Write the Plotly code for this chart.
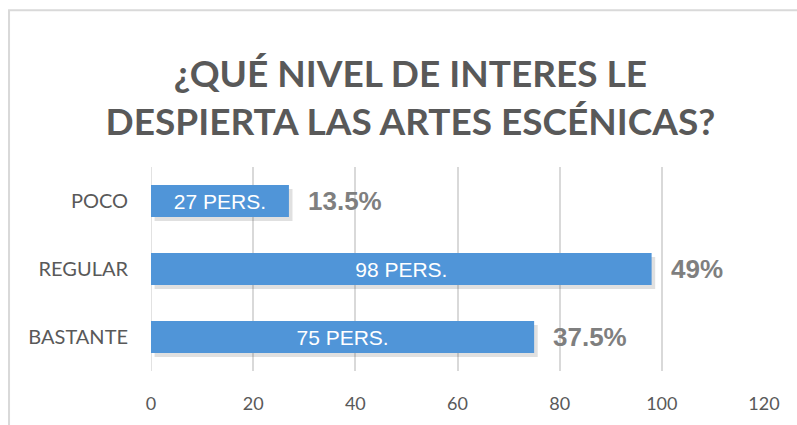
import plotly.graph_objects as go

# Survey answers, listed bottom-to-top as they appear on the category axis
categories = ["BASTANTE", "REGULAR", "POCO"]
people = [75, 98, 27]
percent_labels = ["37.5%", "49%", "13.5%"]
bar_text = [f"{v} PERS." for v in people]
x_ticks = [0, 20, 40, 60, 80, 100, 120]

BAR_WIDTH = 0.47
GRID = "#D9D9D9"
TEXT_GRAY = "#595959"

fig = go.Figure()

# soft drop shadow behind each bar
fig.add_trace(go.Bar(
    y=categories, x=people, orientation="h",
    base=0.7, width=BAR_WIDTH, offset=-BAR_WIDTH / 2 - 0.06,
    marker=dict(color="rgba(60,60,60,0.16)", line=dict(width=0)),
    hoverinfo="skip", showlegend=False,
))

# main bars with the head-count written inside
fig.add_trace(go.Bar(
    y=categories, x=people, orientation="h",
    width=BAR_WIDTH,
    marker=dict(color="#5095D8", line=dict(width=0)),
    text=bar_text, textposition="inside", insidetextanchor="middle",
    textfont=dict(family="Liberation Sans, Arial", size=21, color="white"),
    showlegend=False,
))

# percentage share to the right of each bar
for cat, val, pct in zip(categories, people, percent_labels):
    fig.add_annotation(
        x=val, y=cat, xref="x", yref="y",
        text=f"<b>{pct}</b>", showarrow=False,
        xanchor="left", xshift=17, yshift=0,
        font=dict(family="Liberation Sans, Arial", size=26, color="#7F7F7F"),
    )

# light frame around the whole chart
fig.add_shape(
    type="rect", xref="paper", yref="paper",
    x0=-0.2316, x1=1.3, y0=-0.6, y1=1.768,
    line=dict(color=GRID, width=2), fillcolor="rgba(0,0,0,0)", layer="below",
)

fig.update_layout(
    width=797, height=425,
    margin=dict(l=151, r=33, t=167, b=54),
    paper_bgcolor="white", plot_bgcolor="white",
    barmode="overlay",
    title=dict(
        text="<b>¿QUÉ NIVEL DE INTERES LE<br>DESPIERTA LAS ARTES ESCÉNICAS?</b>",
        x=0.515, xanchor="center", y=0.795, yanchor="middle",
        font=dict(family="Lato", size=37, color=TEXT_GRAY),
    ),
    xaxis=dict(
        range=[0, 120], tickvals=x_ticks,
        showgrid=True, gridcolor=GRID, gridwidth=1.5,
        zeroline=False, showline=False, ticks="",
        ticklabelstandoff=20,
        tickfont=dict(family="Lato", size=18, color=TEXT_GRAY),
        fixedrange=True,
    ),
    yaxis=dict(
        categoryorder="array", categoryarray=categories,
        showgrid=False, zeroline=False, showline=False, ticks="",
        ticklabelstandoff=22,
        tickfont=dict(family="Lato", size=20, color=TEXT_GRAY),
        fixedrange=True,
    ),
)

# the value axis starts at 0 with a gridline of its own
fig.add_vline(x=0, line=dict(color=GRID, width=1.5), layer="below")

fig.write_html("out.html")
